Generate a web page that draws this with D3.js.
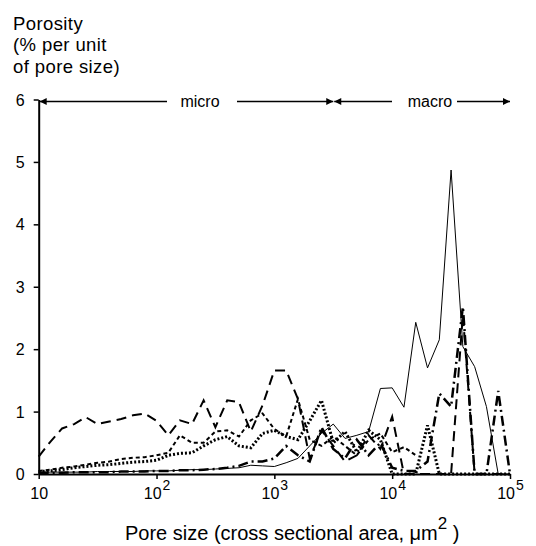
<!DOCTYPE html>
<html>
<head>
<meta charset="utf-8">
<script src="https://cdn.jsdelivr.net/npm/d3@7"></script>
<style>
  body { margin: 0; background: #fff; }
  svg { font-family: Arial, "Liberation Sans", sans-serif; }
</style>
</head>
<body>
<script>
// data
var poreSize = [10, 12.6, 15.8, 20, 25.1, 31.6, 39.8, 50.1, 63.1, 79.4,
  100, 126, 158, 200, 251, 316, 398, 501, 631, 794,
  1000, 1259, 1585, 1995, 2512, 3162, 3981, 5012, 6310, 7943,
  10000, 12589, 15849, 19953, 25119, 31623, 39811, 50119, 63096, 79433, 100000];

var thinSolid = [0.03, 0.03, 0.03, 0.03, 0.03, 0.04, 0.04, 0.04, 0.04, 0.05,
  0.05, 0.05, 0.06, 0.07, 0.07, 0.08, 0.09, 0.1, 0.14, 0.13,
  0.12, 0.18, 0.25, 0.45, 0.65, 0.8, 0.57, 0.62, 0.68, 1.37,
  1.38, 1.07, 2.43, 1.7, 2.15, 4.87, 2.04, 1.72, 1.08, 0, 0];

var longDash = [0.28, 0.52, 0.73, 0.8, 0.91, 0.8, 0.84, 0.88, 0.94, 0.97,
  0.85, 0.62, 0.86, 0.8, 1.18, 0.75, 1.18, 1.15, 0.68, 1.1,
  1.66, 1.66, 1.2, 0.25, 0.7, 0.45, 0.2, 0.3, 0.62, 0.4,
  0.92, 0, 0, 0, 0, 0, 2.55, 0, 0, 0, 0];

var dotted = [0.04, 0.05, 0.07, 0.1, 0.12, 0.14, 0.15, 0.17, 0.19, 0.2,
  0.22, 0.3, 0.33, 0.34, 0.45, 0.55, 0.6, 0.45, 0.42, 0.65,
  0.7, 0.6, 0.55, 0.85, 1.18, 0.5, 0.68, 0.35, 0.7, 0.55,
  0, 0, 0, 0.78, 0, 0, 0, 0, 0, 0, 0];

var shortDash = [0.05, 0.07, 0.1, 0.12, 0.15, 0.18, 0.2, 0.24, 0.26, 0.27,
  0.3, 0.34, 0.62, 0.5, 0.5, 0.68, 0.7, 0.6, 0.86, 0.97,
  0.72, 0.6, 1.2, 0.55, 0.45, 0.6, 0.45, 0.3, 0.55, 0.65,
  0.35, 0.43, 0.3, null, null, null, null, null, null, null, null];

var dashDot = [0.02, 0.02, 0.02, 0.03, 0.03, 0.03, 0.03, 0.04, 0.04, 0.04,
  0.05, 0.05, 0.06, 0.06, 0.07, 0.08, 0.1, 0.13, 0.2, 0.2,
  0.25, 0.45, 0.3, 0.2, 0.75, 0.4, 0.25, 0.55, 0.3, 0.5,
  0.1, 0.05, 0.05, 0.2, 1.29, 1.08, 2.68, 0, 0, 1.33, 0];

var yTicks = [0, 1, 2, 3, 4, 5, 6];
var xTicks = [10, 100, 1000, 10000, 100000];
var xTickExp = ['', '2', '3', '4', '5'];

var seriesList = [
  { values: thinSolid, width: 1, dash: null },
  { values: longDash, width: 2, dash: '10,6' },
  { values: dotted, width: 3, dash: '2,2' },
  { values: shortDash, width: 2, dash: '4,3' },
  { values: dashDot, width: 2.5, dash: '10,4,2,4' }
];

// ----------------------------------------------------------------------------
// svg and scales
var svg = d3.select('body').append('svg')
  .attr('width', 536)
  .attr('height', 546);

var x = d3.scaleLog()
  .domain([10, 100000])
  .range([38.7, 510]);

var y = d3.scaleLinear()
  .domain([0, 6])
  .range([474, 99.5]);

// ----------------------------------------------------------------------------
// lines
var line = d3.line()
  .defined(function (d) { return d[1] != null; })
  .x(function (d) { return x(d[0]); })
  .y(function (d) { return y(d[1]); });

svg.selectAll('path.series')
  .data(seriesList)
  .enter()
  .append('path')
  .attr('class', 'series')
  .attr('fill', 'none')
  .attr('stroke', '#000')
  .attr('stroke-width', function (d) { return d.width; })
  .attr('stroke-dasharray', function (d) { return d.dash; })
  .attr('stroke-linejoin', 'miter')
  .attr('d', function (d) {
    return line(poreSize.map(function (p, i) { return [p, d.values[i]]; }));
  });

// ----------------------------------------------------------------------------
// axes
var yAxis = svg.append('g')
  .attr('transform', 'translate(' + x(10) + ',0)')
  .call(d3.axisLeft(y).tickValues(yTicks).tickSize(5).tickSizeOuter(0).tickFormat(d3.format('d')));

var xAxis = svg.append('g')
  .attr('transform', 'translate(0,' + y(0) + ')')
  .call(d3.axisBottom(x).tickValues(xTicks).tickSize(5).tickSizeOuter(0).tickFormat(''));

svg.selectAll('.domain').attr('stroke-width', 2).attr('stroke', '#000');
svg.selectAll('.tick line').attr('stroke-width', 1.5).attr('stroke', '#000');

yAxis.selectAll('text')
  .attr('font-size', 16)
  .attr('font-family', 'Arial, "Liberation Sans", sans-serif')
  .attr('fill', '#000')
  .attr('x', -14)
  .attr('dy', '0.35em');

var xLab = xAxis.selectAll('.tick').append('text')
  .attr('fill', '#000')
  .attr('font-size', 16)
  .attr('font-family', 'Arial, "Liberation Sans", sans-serif')
  .attr('text-anchor', 'middle')
  .attr('y', 25);

xLab.append('tspan').text('10');
xLab.append('tspan')
  .attr('dy', -9)
  .attr('dx', 1)
  .attr('font-size', 14)
  .text(function (d, i) { return xTickExp[i]; });

// ----------------------------------------------------------------------------
// micro / macro arrows
var defs = svg.append('defs');
defs.append('marker')
  .attr('id', 'arrow')
  .attr('viewBox', '0 0 10 10')
  .attr('refX', 10)
  .attr('refY', 5)
  .attr('markerWidth', 9)
  .attr('markerHeight', 7)
  .attr('markerUnits', 'userSpaceOnUse')
  .attr('orient', 'auto-start-reverse')
  .append('path')
  .attr('d', 'M0,0L10,5L0,10Z')
  .attr('fill', '#000');

var arrowY = y(6) + 2;
var spans = [
  { from: 10, to: 3162, label: 'micro', mid: 200, gapL: 33, gapR: 37 },
  { from: 3162, to: 100000, label: 'macro', mid: 430, gapL: 38, gapR: 27 }
];

spans.forEach(function (s) {
  var x0 = x(s.from) + 1, x1 = x(s.to);
  svg.append('line')
    .attr('x1', x0).attr('x2', s.mid - s.gapL)
    .attr('y1', arrowY).attr('y2', arrowY)
    .attr('stroke', '#000').attr('stroke-width', 1.3)
    .attr('marker-start', 'url(#arrow)');
  svg.append('line')
    .attr('x1', s.mid + s.gapR).attr('x2', x1)
    .attr('y1', arrowY).attr('y2', arrowY)
    .attr('stroke', '#000').attr('stroke-width', 1.3)
    .attr('marker-end', 'url(#arrow)');
  svg.append('text')
    .attr('x', s.mid).attr('y', arrowY + 5.5)
    .attr('text-anchor', 'middle')
    .attr('font-size', 16)
    .text(s.label);
});

// ----------------------------------------------------------------------------
// titles
var yTitle = ['Porosity', '(% per unit', 'of pore size)'];
svg.selectAll('text.ytitle')
  .data(yTitle)
  .enter()
  .append('text')
  .attr('class', 'ytitle')
  .attr('x', 13)
  .attr('y', function (d, i) { return 29.5 + i * 21.5; })
  .attr('font-size', 18.5)
  .attr('letter-spacing', 0.4)
  .text(function (d) { return d; });

var xTitle = svg.append('text')
  .attr('x', 125)
  .attr('y', 540)
  .attr('font-size', 20);
xTitle.append('tspan').text('Pore size (cross sectional area, \u03bcm');
xTitle.append('tspan').attr('dy', -11).attr('font-size', 17).text('2');
xTitle.append('tspan').attr('dy', 11).text(' )');
</script>
</body>
</html>
